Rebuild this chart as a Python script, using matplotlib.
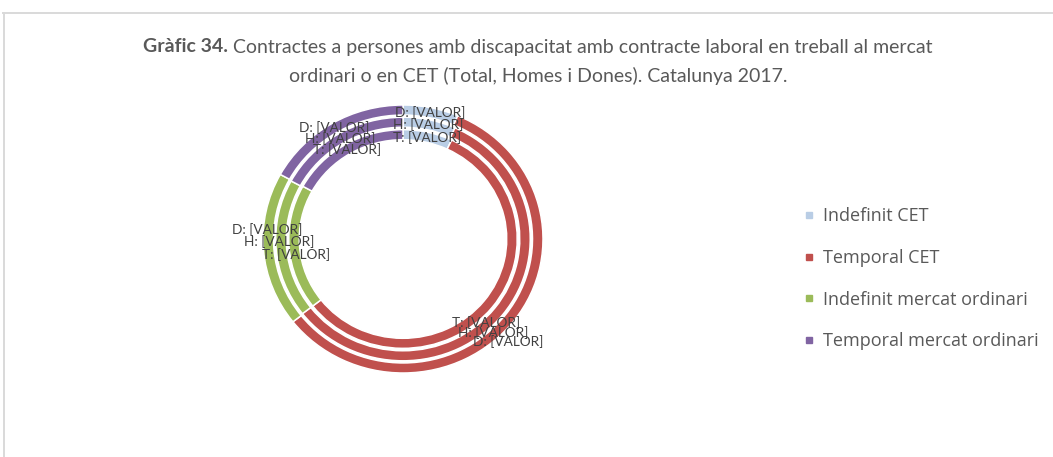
import numpy as np
import matplotlib.pyplot as plt
from matplotlib.lines import Line2D

W, H = 1053, 457

categories = ["Indefinit CET", "Temporal CET",
              "Indefinit mercat ordinari", "Temporal mercat ordinari"]
rings = ["T", "H", "D"]  # de dins cap a fora
total = [7.0, 57.5, 18.5, 17.0]
homes = [6.7, 57.8, 18.4, 17.1]
dones = [6.4, 58.0, 18.6, 17.0]
value_text = "[VALOR]"

colors = ["#B9CDE5", "#C0504D", "#9BBB59", "#8064A2"]

# desplaçament (px, y cap avall) de cada etiqueta respecte al centre del segment
label_shift = {
    "T": [(0, 0), (-2, 18), (1.5, 7), (0, 0)],
    "H": [(0, 0), (-6, 21), (-2.5, -7), (0, 0)],
    "D": [(0, 0), (-2, 24), (-2, -20), (0, 0)],
}


def px(x, y):
    return x / W, 1 - y / H


fig = plt.figure(figsize=(W / 100, H / 100), dpi=100)

# marc del gràfic (només es veu la vora superior i l'esquerra)
fig.add_artist(Line2D([3 / W, 1], [1 - 12.5 / H] * 2, color="#D9D9D9", lw=1.4))
fig.add_artist(Line2D([3.5 / W] * 2, [0, 1 - 12.5 / H], color="#D9D9D9", lw=1.4))

ax = fig.add_axes([263 / W, 1 - 373 / H, 280 / W, 268 / H])
outer = [0.816, 0.909, 1.0]
width = 0.075

for name, vals, r in zip(rings, [total, homes, dones], outer):
    wedges, _ = ax.pie(vals, radius=r, colors=colors, startangle=90,
                       counterclock=False,
                       wedgeprops=dict(width=width, edgecolor="white", linewidth=1.1))
    for i, w in enumerate(wedges):
        th = np.deg2rad((w.theta1 + w.theta2) / 2)
        rm = r - width / 2
        dx, dy = label_shift[name][i]
        ax.annotate(f"{name}: {value_text}", (rm * np.cos(th), rm * np.sin(th)),
                    xytext=(dx * 0.72, -dy * 0.72), textcoords="offset points",
                    ha="center", va="center", fontsize=9.8, color="#404040",
                    family="Lato")

ax.set_aspect("auto")
ax.set_xlim(-1, 1)
ax.set_ylim(-1, 1)
ax.axis("off")

# títol, amb la primera part en negreta
fig.canvas.draw()
rend = fig.canvas.get_renderer()
t1 = fig.text(0, 0, "Gràfic 34.", fontsize=14, weight="bold", color="#595959",
              family="Lato", va="center")
t2 = fig.text(0, 0, " Contractes a persones amb discapacitat amb contracte laboral en treball al mercat",
              fontsize=14, color="#595959", family="Lato", va="center")
w1 = t1.get_window_extent(rend).width
w2 = t2.get_window_extent(rend).width
x0 = 538 - (w1 + w2) / 2
t1.set_position(px(x0, 47))
t2.set_position(px(x0 + w1, 47))
fig.text(*px(538, 76), "ordinari o en CET (Total, Homes i Dones). Catalunya 2017.",
         fontsize=14, color="#595959", family="Lato", ha="center", va="center")

handles = [Line2D([], [], ls="none", marker="s", markersize=5, color=c) for c in colors]
fig.legend(handles, categories, loc="upper left", bbox_to_anchor=px(787, 191),
           frameon=False, labelcolor="#595959", handlelength=0.6,
           handletextpad=0.5, labelspacing=1.31,
           prop=dict(family="Open Sans", size=13))

fig.savefig("out.png", dpi=100)
